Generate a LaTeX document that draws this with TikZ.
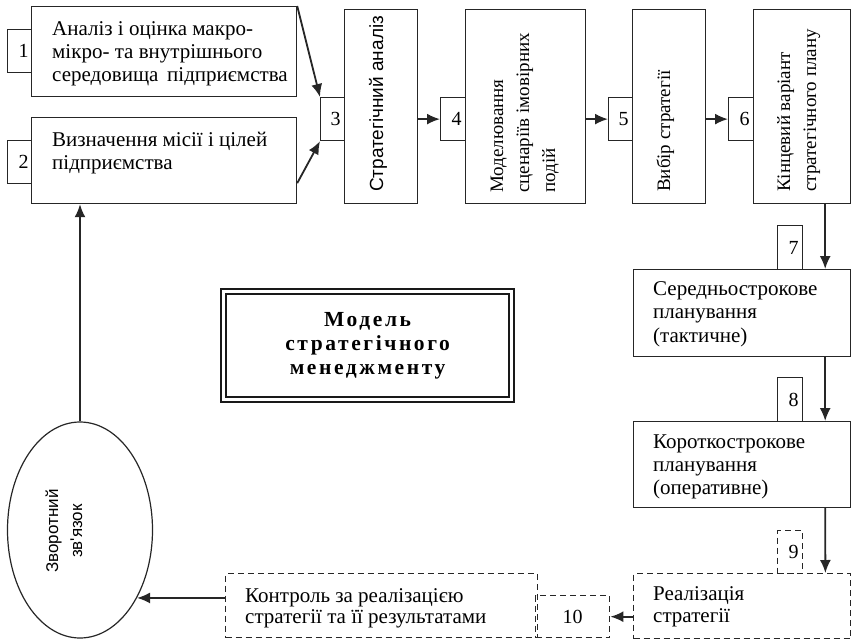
\documentclass[tikz,border=0pt]{standalone}
\usepackage{fontspec}
\setmainfont{Liberation Serif}
\newfontfamily\condsans{Liberation Sans}
\newfontfamily\spbold[LetterSpace=12]{Liberation Serif}
\usetikzlibrary{arrows.meta,shapes.geometric}
\newcommand\mylines[1]{\begin{tabular}[t]{@{}l@{}}#1\end{tabular}}
\begin{document}
\begin{tikzpicture}[x=1pt,y=-1pt,
  box/.style={draw=black!85, line width=1.2pt, fill=white, inner sep=0pt, anchor=north west},
  dbox/.style={box, fill=none, dash pattern=on 6pt off 4pt, line width=1.4pt},
  numbox/.style={box, minimum width=25pt, minimum height=43pt, text width=17pt, align=right, inner xsep=4pt, font=\fontsize{20}{22}\selectfont},
  arr/.style={draw=black!85, line width=1.8pt, -{Latex[length=13pt,width=11pt]}},
  txt/.style={font=\fontsize{21}{23}\selectfont, inner sep=0pt, anchor=base west},
  rottxt/.style={font=\fontsize{19}{26}\selectfont, inner sep=0pt, rotate=90, anchor=base west},
]
\useasboundingbox (0,0) rectangle (852,640);

% top row
\node[numbox] (n1) at (7,29) {1};
\node[box, minimum width=265pt, minimum height=90pt] (b1) at (31,6) {};
\node[numbox] (n2) at (7,140) {2};
\node[box, minimum width=265pt, minimum height=86pt] (b2) at (31,117) {};

\node[numbox, minimum width=24pt, text width=16pt] (n3) at (320,97) {3};
\node[box, minimum width=73pt, minimum height=194pt] (b3) at (344,9) {};
\node[numbox] (n4) at (440,97) {4};
\node[box, minimum width=120pt, minimum height=194pt] (b4) at (465,9) {};
\node[numbox, minimum width=24pt, text width=16pt] (n5) at (608,97) {5};
\node[box, minimum width=73pt, minimum height=194pt] (b5) at (632,9) {};
\node[numbox] (n6) at (728,97) {6};
\node[box, minimum width=97pt, minimum height=194pt] (b6) at (753,9) {};

% right column
\node[numbox, minimum height=44pt] (n7) at (777,225) {7};
\node[box, minimum width=217pt, minimum height=87pt] (b7) at (633,269) {};
\node[numbox, minimum height=44pt] (n8) at (777,377) {8};
\node[box, minimum width=217pt, minimum height=86pt] (b8) at (633,421) {};
\node[numbox, dbox, minimum height=43pt] (n9) at (777,530) {9};
\node[dbox, minimum width=217pt, minimum height=65pt] (b9) at (633,573) {};

% bottom row
\node[dbox, minimum width=74pt, minimum height=42pt, font=\fontsize{20}{22}\selectfont] (n10) at (535,595) {10};
\node[dbox, minimum width=312pt, minimum height=64pt] (b10) at (225,573) {};

% feedback ellipse
\node[draw=black!85, line width=1.2pt, ellipse, minimum width=145pt, minimum height=216pt, inner sep=0pt] (ell) at (80,530) {};
\node[font=\condsans\fontsize{17}{24}\selectfont, rotate=90, align=center, inner sep=0pt] (tell) at (64,531) {Зворотний\\зв'язок};

% title
\node[draw=black!90, double, double distance=3.5pt, line width=1.8pt, minimum width=288pt, minimum height=108pt, align=center, font=\spbold\bfseries\fontsize{21.5}{24}\selectfont] (title) at (367.6,345.6) {Модель\\стратегічного\\менеджменту};

% texts
\node[txt] (t1) at (52,35) {\mylines{Аналіз і оцінка макро-\\мікро- та внутрішнього\\середовища\, підприємства}};
\node[txt] (t2) at (52,146) {\mylines{Визначення місії і цілей\\підприємства}};
\node[rottxt, font=\condsans\fontsize{19}{26}\selectfont] (t3) at (383,192) {Стратегічний аналіз};
\node[rottxt] (t4) at (503,193) {\mylines{Моделювання\\сценаріїв імовірних\\подій}};
\node[rottxt] (t5) at (670,192) {Вибір стратегії};
\node[rottxt] (t6) at (790,192) {\mylines{Кінцевий варіант\\стратегічного плану}};
\node[txt, font=\fontsize{21}{23.5}\selectfont] (t7) at (653,295) {\mylines{Середньострокове\\планування\\(тактичне)}};
\node[txt, font=\fontsize{21}{23}\selectfont] (t8) at (653,448) {\mylines{Короткострокове\\планування\\(оперативне)}};
\node[txt, font=\fontsize{21}{22}\selectfont] (t9) at (653,600) {\mylines{Реалізація\\стратегії}};
\node[txt, font=\fontsize{21}{21.5}\selectfont] (t10) at (245,602) {\mylines{Контроль за реалізацією\\стратегії та її результатами}};

% connectors
\draw[arr] (b1.north east) -- (n3.north west);
\draw[arr] ([yshift=21pt]b2.south east) -- (n3.south west);
\draw[arr] (b3.east |- n4.west) -- (n4.west);
\draw[arr] (b4.east |- n5.west) -- (n5.west);
\draw[arr] (b5.east |- n6.west) -- (n6.west);
\draw[arr] ([xshift=-26pt]b6.south east) -- ([xshift=-26pt]b7.north east);
\draw[arr] ([xshift=-26pt]b7.south east) -- ([xshift=-26pt]b8.north east);
\draw[arr] ([xshift=-26pt]b8.south east) -- ([xshift=-26pt]b9.north east);
\draw[arr] (b9.west |- n10.east) -- (n10.east);
\draw[arr] (b10.west |- ell.-50) -- (ell.-50);
\draw[arr] (ell.north) -- (ell.north |- b2.south);
\end{tikzpicture}
\end{document}
